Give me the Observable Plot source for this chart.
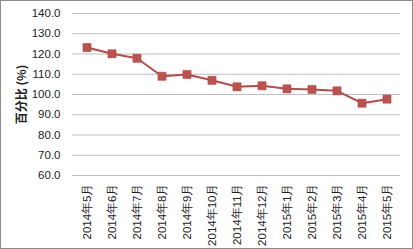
<!DOCTYPE html>
<html><head><meta charset="utf-8">
<script src="https://cdn.jsdelivr.net/npm/d3@7"></script>
<script src="https://cdn.jsdelivr.net/npm/@observablehq/plot@0.6"></script>
<style>
body{margin:0;background:#fff;}
svg{outline:1px solid #8c8c8c;outline-offset:-1px;}
</style></head><body>
<div id="chart"></div>
<script>
const months = ["2014年5月","2014年6月","2014年7月","2014年8月","2014年9月","2014年10月","2014年11月","2014年12月","2015年1月","2015年2月","2015年3月","2015年4月","2015年5月"];
const values = [123.2,120.1,117.9,109.0,109.9,107.0,103.8,104.3,102.8,102.5,101.8,95.7,97.7];
const yTicks = [60,70,80,90,100,110,120,130,140];
const data = months.map((m,i)=>({month:m, value:values[i]}));
const chart = Plot.plot({
  width:413, height:249,
  marginLeft:72, marginRight:13, marginTop:13, marginBottom:74,
  style:{fontFamily:"'Liberation Sans', Arial, sans-serif", fontSize:"11px", color:"#222", background:"#fff"},
  x:{type:"band", domain:months, padding:0},
  y:{domain:[60,140]},
  marks:[
    Plot.gridY(yTicks,{stroke:"#bfbfbf", strokeOpacity:1}),
    Plot.ruleX([months[0]],{x:months[0], dx:-12.6, stroke:"#bfbfbf"}),
    Plot.axisY({ticks:yTicks, tickFormat:d=>d.toFixed(1), tickSize:0, tickPadding:12, fontSize:11.5, label:null}),
    Plot.text(["百分比 (%)"],{frameAnchor:"left", textAnchor:"middle", dx:-50, rotate:-90, fontSize:12, fontWeight:"bold", fontFamily:"'Noto Sans CJK SC', sans-serif"}),
    Plot.axisX({tickSize:0, tickRotate:-90, tickPadding:8, fontSize:11.5, label:null}),
    Plot.line(data,{x:"month", y:"value", stroke:"#b94a48", strokeWidth:2}),
    Plot.dot(data,{x:"month", y:"value", symbol:"square", r:4.6, fill:"#c0504d", stroke:"#a94442", strokeWidth:0.5})
  ]
});
document.getElementById("chart").appendChild(chart);
</script></body></html>
